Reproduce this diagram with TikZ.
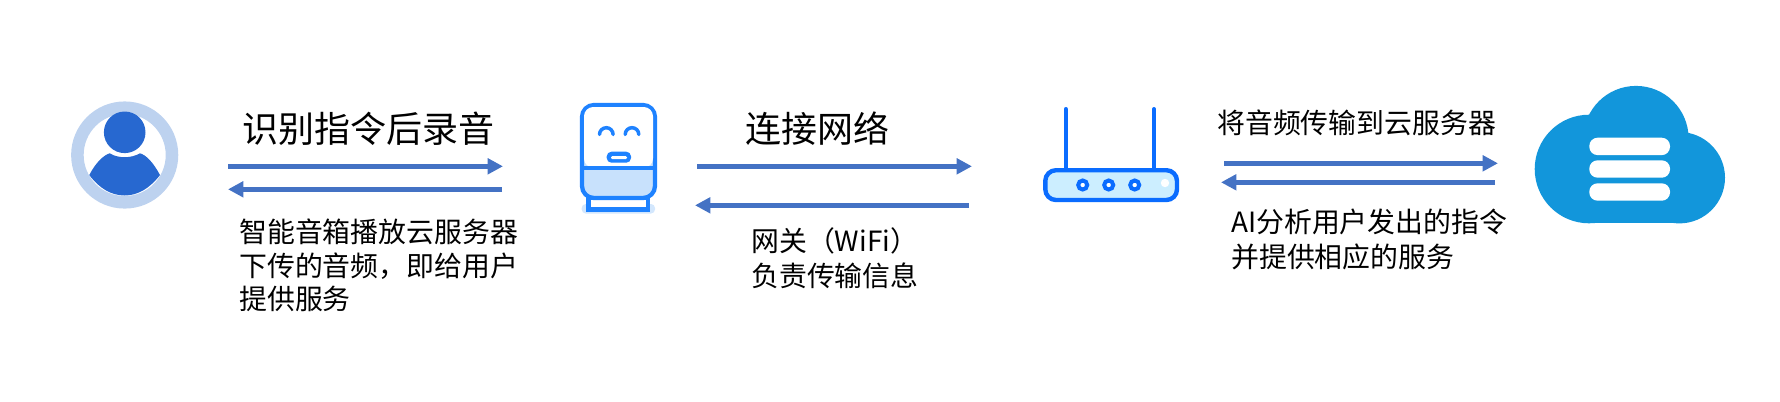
\documentclass[tikz,border=0pt]{standalone}
\usepackage{fontspec}
\setmainfont{Noto Sans CJK SC}
\usetikzlibrary{arrows.meta}
\definecolor{arrowblue}{HTML}{4472C4}
\definecolor{userring}{HTML}{BDD2EF}
\definecolor{userblue}{HTML}{2768D0}
\definecolor{boxblue}{HTML}{1E82FF}
\definecolor{boxfill}{HTML}{C8E1FC}
\definecolor{routerblue}{HTML}{0A6CFF}
\definecolor{routerfill}{HTML}{CCEEFF}
\definecolor{cloudblue}{HTML}{1296DB}
\tikzset{
  flow/.style={draw=arrowblue,line width=3.75pt,-{Triangle[length=11.5pt,width=11.5pt]}},
  bigtext/.style={anchor=west,inner sep=0pt,font=\fontsize{27}{32}\selectfont},
  smalltext/.style={anchor=north west,inner sep=0pt,align=left,font=\fontsize{20.9}{25}\selectfont},
}
\begin{document}
\begin{tikzpicture}[x=0.75pt,y=0.75pt,yscale=-1,xscale=1]
    \useasboundingbox (0,0) rectangle (1780,401);
    % user
    \draw [userring,line width=9.4pt] (124.7,155) circle (47.3);
    \fill [userblue] (124.7,132.3) circle (20.8);
    \fill [userblue] (89.3,175) .. controls (96,162) and (104,155) .. (109.7,153.3) .. controls (118,158.5) and (131,158.5) .. (140,153.3) .. controls (146,155) and (153,162) .. (160,175) .. controls (150,188) and (138,195.5) .. (124.7,195.5) .. controls (111,195.5) and (99,188) .. (89.3,175) -- cycle;
    % speaker
    \fill [boxfill!80!white,rounded corners=3pt] (581.7,204) rectangle (655,213.5);
    \draw [boxblue,line width=3.2pt,fill=white] (588.5,198) rectangle (648,209.5);
    \draw [boxblue,line width=3.2pt,rounded corners=9pt,fill=boxfill] (582,105) rectangle (655,198);
    \fill [white,rounded corners=7pt] (584,107) -- (653,107) -- (653,167.7) -- (584,167.7) -- cycle;
    \draw [boxblue,line width=3.2pt] (582,167.7) -- (655,167.7);
    \draw [boxblue,line width=2.6pt,line cap=round] (599.5,134.5) arc (180:360:6.8);
    \draw [boxblue,line width=2.6pt,line cap=round] (625.2,134.5) arc (180:360:6.8);
    \fill [boxblue,rounded corners=3.5pt] (606.7,151.7) rectangle (631,162.7);
    \fill [white,rounded corners=1pt] (611,156) rectangle (627,159.2);
    % router
    \draw [routerblue,line width=3pt,line cap=round] (1065.7,109) -- (1065.7,170);
    \draw [routerblue,line width=3pt,line cap=round] (1154,109) -- (1154,170);
    \draw [routerblue,line width=3.3pt,fill=routerfill,rounded corners=8pt] (1045.3,170.2) rectangle (1177,200);
    \foreach \dotx in {1082.7,1108.7,1134.7}
        \draw [routerblue,line width=3pt,fill=white] (\dotx,185) circle (4.5);
    \fill [white] (1165,183) circle (4.2);
    % cloud
    \fill [cloudblue] (1589,169) circle (54.3);
    \fill [cloudblue] (1636,138.5) circle (52.6);
    \fill [cloudblue] (1679.3,177.7) circle (45.7);
    \fill [cloudblue] (1589,175) rectangle (1679.3,223.3);
    \foreach \bary in {137.7,160.3,183.3}
        \fill [white,rounded corners=6.2pt] (1589.3,\bary) rectangle (1670,\bary+17.4);
    % arrows
    \coordinate (a1) at (228,166.3);  \coordinate (a2) at (503,166.3);
    \coordinate (b1) at (502,189.3);  \coordinate (b2) at (228,189.3);
    \coordinate (c1) at (697,166.3);  \coordinate (c2) at (972,166.3);
    \coordinate (d1) at (969,205.3);  \coordinate (d2) at (695,205.3);
    \coordinate (e1) at (1224,163.3); \coordinate (e2) at (1498,163.3);
    \coordinate (f1) at (1495,182.3); \coordinate (f2) at (1221,182.3);
    \draw [flow] (a1) -- (a2);
    \draw [flow] (b1) -- (b2);
    \draw [flow] (c1) -- (c2);
    \draw [flow] (d1) -- (d2);
    \draw [flow] (e1) -- (e2);
    \draw [flow] (f1) -- (f2);
    % labels
    \node [bigtext] (record) at (242.5,129) {识别指令后录音};
    \node [smalltext] (play) at (239,219) {智能音箱播放云服务器\\下传的音频，即给用户\\提供服务};
    \node [smalltext] (gate) at (751,227.5) {网关（WiFi）\\[1.25pt]负责传输信息};
    \node [bigtext] (link) at (745.5,129) {连接网络};
    \node [smalltext] (upload) at (1217,110) {将音频传输到云服务器};
    \node [smalltext] (analyse) at (1231,209) {AI分析用户发出的指令\\[1.2pt]并提供相应的服务};
\end{tikzpicture}
\end{document}
